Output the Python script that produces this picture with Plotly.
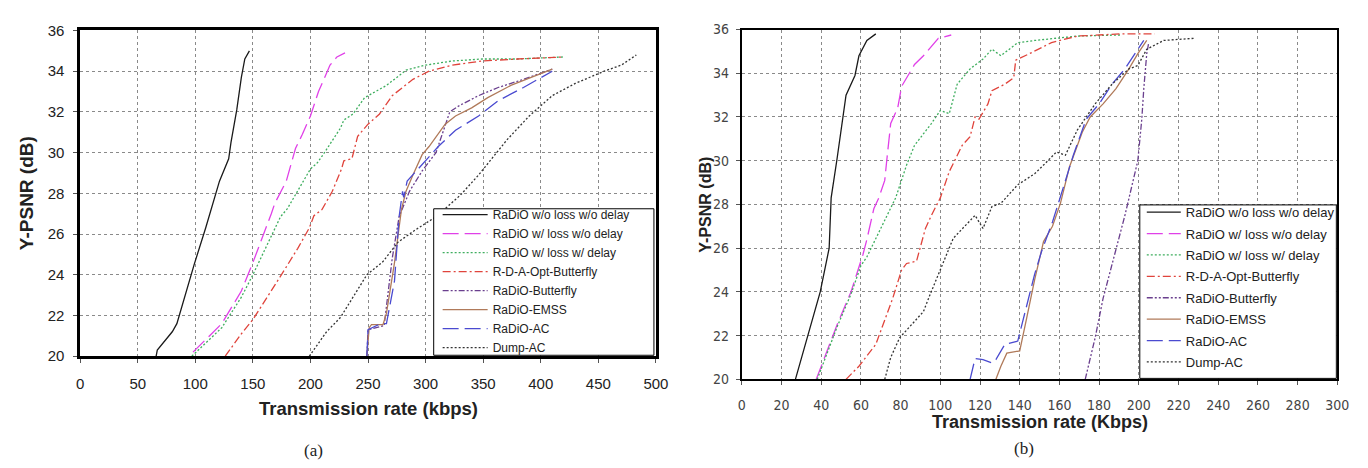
import plotly.graph_objects as go

W, H = 1368, 468

names = ['RaDiO w/o loss w/o delay', 'RaDiO w/ loss w/o delay', 'RaDiO w/ loss w/ delay',
         'R-D-A-Opt-Butterfly', 'RaDiO-Butterfly', 'RaDiO-EMSS', 'RaDiO-AC', 'Dump-AC']

# ---- chart (a) ----
a_noloss_x = [66, 67, 80, 84, 99, 109, 121, 129, 131, 136, 140, 143, 147]
a_noloss_y = [20.0, 20.3, 21.2, 21.6, 24.5, 26.3, 28.6, 29.7, 30.5, 32.1, 33.7, 34.6, 35.0]
a_loss_x = [98, 123, 140, 150, 166, 169, 179, 187, 193, 200, 207, 217, 223, 230]
a_loss_y = [20.2, 21.6, 23.2, 24.6, 27.0, 27.5, 28.6, 30.2, 30.9, 31.8, 33.0, 34.3, 34.7, 34.9]
a_delay_x = [97, 123, 140, 150, 166, 174, 180, 191, 200, 206, 211, 226, 229, 237, 247, 266, 283, 300, 323, 349, 380, 420]
a_delay_y = [20.0, 21.4, 22.9, 24.0, 25.9, 26.85, 27.25, 28.3, 29.2, 29.5, 29.9, 31.2, 31.6, 31.9, 32.7, 33.3, 34.05, 34.3, 34.5, 34.6, 34.6, 34.7]
a_rda_x = [126, 140, 150, 166, 177, 189, 199, 203, 210, 219, 227, 229, 236, 241, 250, 260, 271, 289, 303, 323, 349, 380, 420]
a_rda_y = [20.0, 21.1, 21.8, 23.2, 24.2, 25.3, 26.3, 26.9, 27.2, 28.1, 29.2, 29.6, 29.7, 30.8, 31.4, 31.9, 32.8, 33.6, 34.0, 34.3, 34.5, 34.6, 34.7]
a_bfly_x = [249, 250, 264, 271, 277, 286, 297, 309, 321, 329, 346, 363, 385, 410]
a_bfly_y = [20.0, 21.3, 21.5, 24.8, 26.85, 28.1, 29.1, 30.0, 32.0, 32.3, 32.8, 33.2, 33.6, 34.1]
a_emss_x = [249, 251, 253, 263, 266, 273, 279, 283, 289, 297, 303, 317, 326, 340, 354, 374, 410]
a_emss_y = [20.0, 21.4, 21.55, 21.55, 22.1, 24.6, 27.2, 28.1, 28.9, 29.9, 30.3, 31.4, 31.8, 32.2, 32.7, 33.3, 34.1]
a_ac_x = [249, 250, 261, 266, 273, 277, 280, 281, 284, 297, 311, 326, 346, 363, 385, 410]
a_ac_y = [20.0, 21.3, 21.6, 21.6, 23.7, 26.85, 28.1, 27.8, 28.6, 29.4, 30.3, 31.1, 31.8, 32.55, 33.2, 34.0]
a_dump_x = [199, 214, 226, 237, 249, 263, 276, 291, 309, 330, 346, 371, 390, 410, 430, 455, 470, 483]
a_dump_y = [20.0, 21.2, 21.9, 22.9, 24.0, 24.65, 25.6, 26.2, 26.85, 27.9, 28.9, 30.65, 31.8, 32.8, 33.4, 34.0, 34.3, 34.8]

# ---- chart (b) ----
b_noloss_x = [27, 33, 39.5, 44, 45, 48, 51.5, 52.5, 57, 59, 63, 67.5]
b_noloss_y = [20.0, 21.9, 24.0, 26.0, 28.3, 30.1, 32.2, 33.0, 33.9, 34.8, 35.5, 35.8]
b_loss_x = [37.5, 48, 55, 61, 63, 66.5, 69, 72, 73, 75, 78.5, 80.5, 87, 91.5, 99, 105.5]
b_loss_y = [20.0, 22.5, 24.0, 25.7, 26.4, 27.8, 28.3, 29.1, 30.0, 31.7, 32.4, 33.4, 34.4, 34.8, 35.6, 35.75]
b_delay_x = [38, 48, 55, 60, 63, 70, 77.5, 83, 87, 95.5, 100, 104.5, 108.5, 115, 121.5, 126, 130.5, 139, 147.5, 169, 191]
b_delay_y = [20.0, 22.4, 23.9, 25.2, 25.6, 26.9, 28.3, 29.8, 30.7, 31.7, 32.3, 32.15, 33.5, 34.2, 34.65, 35.1, 34.8, 35.4, 35.5, 35.7, 35.75]
b_rda_x = [52.5, 59, 67.5, 76, 80.5, 83, 88, 92.5, 95.5, 100, 104.5, 111, 115, 117.5, 119.5, 124, 126, 132.5, 137, 138, 145, 156, 169, 191, 208]
b_rda_y = [20.0, 20.6, 21.6, 23.7, 25.0, 25.3, 25.4, 26.9, 27.5, 28.3, 29.5, 30.7, 31.1, 32.0, 31.9, 32.6, 33.2, 33.5, 33.8, 34.6, 34.9, 35.4, 35.7, 35.8, 35.8]
b_bfly_x = [173, 178, 182, 187.5, 193, 199.5, 201.5, 202.5, 204, 205]
b_bfly_y = [20.0, 21.9, 23.7, 25.6, 27.5, 30.0, 31.9, 33.3, 34.9, 35.4]
b_emss_x = [128, 130.5, 133.5, 137, 140, 143.5, 147.5, 152, 156.5, 160.5, 165, 171.5, 175.5, 182, 188.5, 195, 199.5, 204]
b_emss_y = [20.0, 20.6, 21.2, 21.25, 21.3, 22.8, 24.55, 26.3, 27.0, 28.05, 29.7, 31.3, 32.0, 32.6, 33.3, 34.2, 34.9, 35.5]
b_ac_x = [115, 117.5, 121.5, 126, 128, 132.5, 139, 143.5, 147.5, 151, 156.5, 160.5, 167, 173.5, 180, 186.5, 193, 199.5, 202.5]
b_ac_y = [20.0, 20.95, 20.9, 20.75, 20.9, 21.6, 21.75, 23.4, 24.8, 25.85, 27.2, 28.35, 30.25, 31.9, 32.6, 33.5, 34.2, 35.1, 35.5]
b_dump_x = [72, 75, 79.5, 91.5, 94.5, 100, 106.5, 117.5, 121.5, 126, 130.5, 139, 147.5, 152, 158.5, 163, 169, 178, 186.5, 195, 199.5, 204, 212.5, 228]
b_dump_y = [20.0, 21.0, 21.9, 23.1, 23.8, 25.0, 26.45, 27.5, 26.9, 27.9, 28.05, 28.9, 29.4, 29.8, 30.4, 30.25, 31.4, 32.6, 33.5, 34.2, 34.35, 35.1, 35.5, 35.6]

styles = [
    dict(color='#1a1a1a', dash='solid'),
    dict(color='#e040e8', dash='16px,6px'),
    dict(color='#3fae5f', dash='2px,2px'),
    dict(color='#e0443c', dash='8px,3px,2px,3px'),
    dict(color='#6a3f8e', dash='6px,2px,2px,2px,2px,2px'),
    dict(color='#b07a5a', dash='solid'),
    dict(color='#4a4ad0', dash='16px,6px'),
    dict(color='#333333', dash='2px,2px'),
]

a_data = [(a_noloss_x, a_noloss_y), (a_loss_x, a_loss_y), (a_delay_x, a_delay_y), (a_rda_x, a_rda_y),
          (a_bfly_x, a_bfly_y), (a_emss_x, a_emss_y), (a_ac_x, a_ac_y), (a_dump_x, a_dump_y)]
b_data = [(b_noloss_x, b_noloss_y), (b_loss_x, b_loss_y), (b_delay_x, b_delay_y), (b_rda_x, b_rda_y),
          (b_bfly_x, b_bfly_y), (b_emss_x, b_emss_y), (b_ac_x, b_ac_y), (b_dump_x, b_dump_y)]

fig = go.Figure()
for i, (name, st, (x, y)) in enumerate(zip(names, styles, a_data)):
    fig.add_trace(go.Scatter(x=x, y=y, mode='lines', name=name, line=dict(width=1.3, **st),
                             xaxis='x', yaxis='y', legend='legend', legendgroup='a%d' % i))
for i, (name, st, (x, y)) in enumerate(zip(names, styles, b_data)):
    fig.add_trace(go.Scatter(x=x, y=y, mode='lines', name=name, line=dict(width=1.3, **st),
                             xaxis='x2', yaxis='y2', legend='legend2', legendgroup='b%d' % i))


def px_x(p):
    return p / W


def px_y(p):
    return 1 - p / H


axis_common = dict(showgrid=True, gridcolor='#8a8a8a', griddash='dot', gridwidth=1,
                   showline=True, linecolor='black', mirror=True, ticks='outside',
                   ticklen=4, tickcolor='#555', zeroline=False)
tick_b = dict(size=14, family='Liberation Sans Narrow, DejaVu Sans Condensed, Liberation Sans', color='#444')


def ann(text, x, y, size, angle=0, family=None):
    f = dict(size=size, color='#222')
    if family:
        f['family'] = family
    return dict(text=text, x=px_x(x), y=px_y(y), xref='paper', yref='paper', xanchor='center',
                yanchor='middle', textangle=angle, showarrow=False, font=f)


fig.update_layout(
    width=W, height=H, paper_bgcolor='white', plot_bgcolor='white',
    margin=dict(l=0, r=0, t=0, b=0),
    font=dict(family='Liberation Sans, Arial', color='#222'),
    xaxis=dict(domain=[px_x(69), px_x(652)], range=[0, 500], dtick=50, anchor='y',
               linewidth=2.5, tickfont=dict(size=15), ticklabelstandoff=8, **axis_common),
    yaxis=dict(domain=[px_y(352), px_y(14)], range=[20, 36], dtick=2, anchor='x',
               linewidth=2.5, tickfont=dict(size=15), ticklabelstandoff=6, **axis_common),
    xaxis2=dict(domain=[px_x(739), px_x(1342)], range=[0, 300], dtick=20, anchor='y2',
                linewidth=2, tickfont=tick_b, ticklabelstandoff=8, **axis_common),
    yaxis2=dict(domain=[px_y(376), px_y(13)], range=[20, 36], dtick=2, anchor='x2',
                linewidth=2, tickfont=tick_b, ticklabelstandoff=4, **axis_common),
    legend=dict(x=px_x(431), y=px_y(190), xanchor='left', yanchor='top', bgcolor='rgba(0,0,0,0)',
                borderwidth=0, font=dict(size=12, color='#222'), itemwidth=45, tracegroupgap=0),
    legend2=dict(x=px_x(1144), y=px_y(187), xanchor='left', yanchor='top', bgcolor='rgba(0,0,0,0)',
                 borderwidth=0, font=dict(size=13, color='#222'), itemwidth=34, tracegroupgap=1.5),
    shapes=[
        dict(type='rect', xref='paper', yref='paper', x0=px_x(427), x1=px_x(650), y0=px_y(351), y1=px_y(199),
             fillcolor='white', line=dict(color='black', width=1), layer='above'),
        dict(type='rect', xref='paper', yref='paper', x0=px_x(1142), x1=px_x(1341), y0=px_y(375), y1=px_y(195),
             fillcolor='white', line=dict(color='black', width=1), layer='above'),
    ],
    annotations=[
        ann('<b>Y-PSNR (dB)</b>', 15, (352 + 14) / 2, 19, angle=-90),
        ann('<b>Transmission rate (kbps)</b>', (69 + 652) / 2, 406, 18.5),
        ann('(a)', 305, 450, 17, family='Liberation Serif, Times New Roman'),
        ann('<b>Y-PSNR (dB)</b>', 702, (376 + 13) / 2, 16, angle=-90),
        ann('<b>Transmission rate (Kbps)</b>', (739 + 1342) / 2, 420, 18),
        ann('(b)', 1025, 448, 17, family='Liberation Serif, Times New Roman'),
    ],
)

fig.write_html("out.html")
